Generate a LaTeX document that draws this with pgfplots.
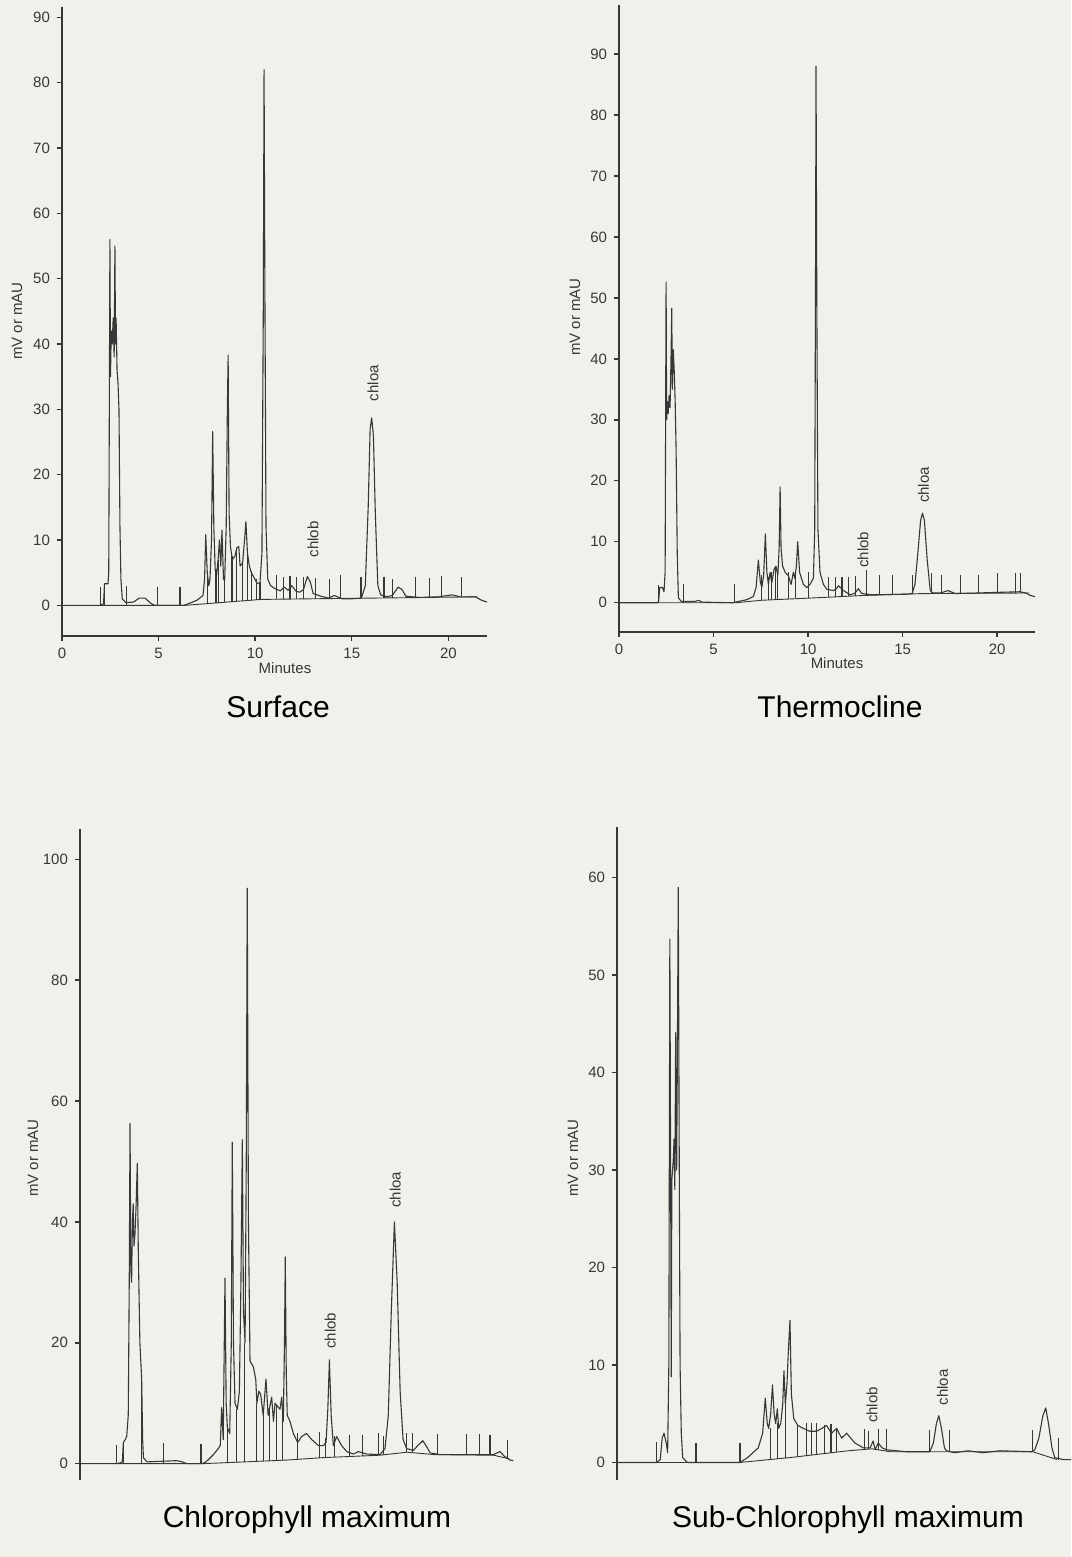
\documentclass[border=0pt]{standalone}
\usepackage{pgfplots}
\pgfplotsset{compat=1.18}
\usepackage{fontspec}
\setmainfont{Liberation Sans}
\definecolor{paper}{RGB}{242,240,235}
\definecolor{ink}{RGB}{55,55,55}
\pgfplotsset{
  chrom/.style={scale only axis, unbounded coords=jump,
    axis line style={-, line width=0.7pt, draw=ink},
    tick style={line width=0.7pt, draw=ink}, tick align=outside, major tick length=2.5pt,
    xtick pos=bottom, ytick pos=left,
    tick label style={font=\fontsize{7.5}{8}\selectfont, text=ink},
    /pgf/number format/assume math mode=true},
  trace/.style={line width=0.55pt, draw=ink, line join=round},
  base/.style={line width=0.45pt, draw=ink},
  evt/.style={line width=0.55pt, draw=ink},
}
\newcommand{\pk}[1]{\fontsize{7.5}{8}\selectfont #1}
\begin{document}
\begin{tikzpicture}
\path[fill=paper] (0,0) rectangle (535.5pt,-778.5pt);

% ---------- Surface ----------
\begin{axis}[chrom, at={(31pt,-318pt)}, anchor=south west,
  width=212.5pt, height=314.5pt,
  xmin=0, xmax=22, ymin=-4.7, ymax=91.6,
  axis x line*=bottom, axis y line*=left,
  xtick={0,5,10,15,20}, ytick={0,10,...,90}]
\addplot[trace] coordinates {(0,0) (1.95,0) (2.0,0.1) (2.15,0.2) (2.2,3.3) (2.38,3.3) (2.42,5) (2.45,30) (2.48,56) (2.51,35) (2.55,42) (2.6,40) (2.65,44) (2.7,38) (2.74,55) (2.77,40) (2.8,44) (2.85,36) (2.9,34) (2.95,30) (3.0,12) (3.05,4) (3.12,1.0) (3.3,0.4) (3.7,0.5) (4.0,1.1) (4.3,1.1) (4.6,0.3) (4.8,0) (6.3,0) (6.6,0.3) (7.0,0.8) (7.3,1.5) (7.38,4) (7.44,10.8) (7.52,5) (7.6,3) (7.66,4) (7.74,10) (7.8,26.6) (7.86,12) (7.93,5.5) (8.0,4.5) (8.08,7) (8.15,10) (8.22,6) (8.28,11.5) (8.36,4) (8.42,3.8) (8.5,12) (8.56,30) (8.6,38.3) (8.65,14) (8.72,9) (8.82,7) (8.95,7.5) (9.05,8.8) (9.15,9) (9.22,6) (9.35,6.5) (9.45,10) (9.52,12.8) (9.6,8) (9.7,6) (9.8,5) (9.95,4.2) (10.1,3.3) (10.25,3.5) (10.35,8) (10.42,45) (10.46,82) (10.5,50) (10.56,12) (10.65,4) (10.8,3) (11.0,2.6) (11.3,2.2) (11.5,2.8) (11.7,2.3) (11.9,3) (12.1,2.2) (12.3,2.0) (12.5,2.4) (12.7,4.4) (12.85,3.6) (13.0,1.8) (13.4,1.4) (13.8,1.1) (14.1,1.5) (14.5,1.0) (15.0,1.0) (15.5,1.1) (15.7,3) (15.85,15) (15.95,27) (16.03,28.7) (16.12,26) (16.22,14) (16.35,3) (16.5,1.6) (16.8,1.3) (17.1,1.5) (17.4,2.8) (17.6,2.4) (17.8,1.4) (18.5,1.2) (19.5,1.3) (20.2,1.6) (20.6,1.3) (21.4,1.3) (21.7,0.8) (22,0.5)};
\addplot[base] coordinates {(1.97,0) (6.4,0) (10.3,0.9) (13,1.0) (16,1.1) (21.5,1.3)};
\addplot[evt] coordinates {(1.97,0) (1.97,2.8) (1.97,nan) (2.22,0) (2.22,3.3) (2.22,nan) (3.35,0) (3.35,3) (3.35,nan) (4.95,0) (4.95,2.8) (4.95,nan) (6.11,0) (6.11,2.8) (6.11,nan)
 (7.55,0.25) (7.55,5) (7.55,nan) (7.97,0.37) (7.97,5.5) (7.97,nan) (8.1,0.4) (8.1,7) (8.1,nan) (8.39,0.45) (8.39,4) (8.39,nan) (8.8,0.55) (8.8,7.5) (8.8,nan) (9.05,0.6) (9.05,8.8) (9.05,nan) (9.35,0.7) (9.35,6.5) (9.35,nan) (9.6,0.75) (9.6,8) (9.6,nan) (9.8,0.8) (9.8,5.2) (9.8,nan) (10.08,0.85) (10.08,4) (10.08,nan) (10.25,0.9) (10.25,3.6) (10.25,nan)
 (11.11,0.95) (11.11,4.6) (11.11,nan) (11.46,0.95) (11.46,4.4) (11.46,nan) (11.8,0.97) (11.8,4.5) (11.8,nan) (12.15,0.98) (12.15,4.3) (12.15,nan) (12.49,1.0) (12.49,4.4) (12.49,nan) (13.1,1.0) (13.1,4.2) (13.1,nan) (13.84,1.03) (13.84,4.0) (13.84,nan) (14.42,1.05) (14.42,4.6) (14.42,nan) (15.48,1.08) (15.48,4.4) (15.48,nan) (16.67,1.12) (16.67,4.3) (16.67,nan) (17.12,1.13) (17.12,4.0) (17.12,nan) (18.31,1.17) (18.31,4.3) (18.31,nan) (19.01,1.2) (19.01,4.2) (19.01,nan) (19.65,1.22) (19.65,4.5) (19.65,nan) (20.69,1.27) (20.69,4.3)};
\node[rotate=90, text=ink] at (axis cs:16.1,34) {\pk{chloa}};
\node[rotate=90, text=ink] at (axis cs:13.0,10.1) {\pk{chlob}};
\end{axis}

% ---------- Thermocline ----------
\begin{axis}[chrom, at={(309.5pt,-316pt)}, anchor=south west,
  width=208pt, height=313.7pt,
  xmin=0, xmax=22, ymin=-4.8, ymax=98.1,
  axis x line*=bottom, axis y line*=left,
  xtick={0,5,10,15,20}, ytick={0,10,...,90}]
\addplot[trace] coordinates {(0,0) (2.05,0) (2.1,0.3) (2.15,2.5) (2.3,2.5) (2.38,1.8) (2.44,5) (2.47,35) (2.49,52.6) (2.52,30) (2.56,33) (2.6,31) (2.65,34) (2.7,32) (2.75,40) (2.79,48.3) (2.82,35) (2.87,41.5) (2.92,38) (2.97,33) (3.02,25) (3.08,8) (3.14,0.8) (3.3,0.2) (4.0,0.2) (4.2,0.4) (4.4,0.1) (6.0,0) (6.3,0.2) (6.75,0.5) (7.1,1) (7.25,2.5) (7.37,7) (7.47,3.5) (7.55,2.5) (7.65,4.5) (7.74,11.3) (7.82,5) (7.9,3) (7.99,5) (8.08,3.3) (8.2,5.5) (8.3,6) (8.4,4.5) (8.47,9) (8.52,19) (8.57,9) (8.65,6) (8.79,5) (8.96,4.4) (9.1,3) (9.22,5) (9.3,4) (9.38,6) (9.45,10) (9.55,5) (9.75,3) (9.93,2.5) (10.1,3) (10.28,4) (10.35,12) (10.39,50) (10.42,88) (10.46,50) (10.52,12) (10.63,5) (10.81,3) (10.99,2.2) (11.34,2) (11.5,2.3) (11.6,2.8) (11.87,2.0) (12.22,1.3) (12.45,1.5) (12.66,2.3) (12.84,1.5) (13.4,1.3) (15.2,1.4) (15.5,1.5) (15.65,3) (15.8,8) (15.95,13.5) (16.05,14.7) (16.15,13.5) (16.3,7) (16.46,2) (16.6,1.6) (17.0,1.6) (17.4,2) (17.78,1.5) (19,1.6) (20,1.7) (21.2,1.8) (21.5,1.6) (21.75,1.2) (22,1.0)};
\addplot[base] coordinates {(2.1,0) (6.2,0) (7.5,0.4) (10.0,0.75) (13,1.2) (16,1.5) (21.7,1.6)};
\addplot[evt] coordinates {(2.11,0) (2.11,2.9) (2.11,nan) (3.4,0) (3.4,3) (3.4,nan) (6.1,0) (6.1,3) (6.1,nan)
 (7.55,0.4) (7.55,4.5) (7.55,nan) (7.9,0.45) (7.9,4.2) (7.9,nan) (8.08,0.5) (8.08,5) (8.08,nan) (8.26,0.55) (8.26,5.8) (8.26,nan) (8.38,0.55) (8.38,5) (8.38,nan) (8.96,0.65) (8.96,5) (8.96,nan) (9.32,0.7) (9.32,4.8) (9.32,nan) (10.02,0.75) (10.02,5) (10.02,nan)
 (11.08,0.9) (11.08,4.3) (11.08,nan) (11.43,0.95) (11.43,4.3) (11.43,nan) (11.79,1.0) (11.79,4.2) (11.79,nan) (12.14,1.05) (12.14,4.3) (12.14,nan) (12.49,1.1) (12.49,4.4) (12.49,nan) (13.07,1.2) (13.07,5.4) (13.07,nan) (13.78,1.3) (13.78,4.5) (13.78,nan) (14.48,1.35) (14.48,4.5) (14.48,nan) (15.54,1.45) (15.54,4.5) (15.54,nan) (16.54,1.5) (16.54,4.8) (16.54,nan) (17.07,1.5) (17.07,4.5) (17.07,nan) (18.08,1.52) (18.08,4.5) (18.08,nan) (19.01,1.55) (19.01,4.5) (19.01,nan) (20.02,1.57) (20.02,4.8) (20.02,nan) (20.95,1.6) (20.95,4.8) (20.95,nan) (21.22,1.6) (21.22,4.8)};
\node[rotate=90, text=ink] at (axis cs:16.1,19.3) {\pk{chloa}};
\node[rotate=90, text=ink] at (axis cs:12.9,8.7) {\pk{chlob}};
\end{axis}

% ---------- Chlorophyll maximum ----------
\begin{axis}[chrom, at={(40pt,-740pt)}, anchor=south west,
  width=216.7pt, height=325.5pt,
  xmin=0, xmax=22, ymin=-2.7, ymax=105,
  axis x line=none, axis y line*=left,
  xtick=\empty, ytick={0,20,...,100}]
\addplot[trace] coordinates {(0,0) (1.86,0) (2.0,0.1) (2.15,0.3) (2.2,3.5) (2.3,4) (2.37,4.5) (2.45,8) (2.5,30) (2.54,56.3) (2.58,32) (2.62,30) (2.66,40) (2.7,43) (2.74,36) (2.79,38) (2.84,42) (2.91,49.7) (2.96,35) (3.04,20) (3.13,14) (3.18,4) (3.22,1) (3.4,0.3) (4.9,0.5) (5.2,0.3) (5.42,0) (6.18,0) (6.4,0.3) (6.77,1.5) (7.02,2.5) (7.12,3) (7.19,9.3) (7.27,4) (7.36,30.7) (7.42,10) (7.48,6) (7.6,5) (7.68,20) (7.73,53.2) (7.79,20) (7.87,10) (7.99,9) (8.09,12) (8.17,30) (8.24,53.6) (8.3,25) (8.38,20) (8.44,50) (8.49,95.2) (8.55,40) (8.63,17) (8.8,16) (8.92,14) (8.98,10) (9.08,12) (9.17,11.5) (9.3,8) (9.44,14) (9.55,8) (9.73,11) (9.82,7) (9.9,10) (10.15,9) (10.24,11) (10.32,7) (10.38,20) (10.42,34.2) (10.47,15) (10.52,8) (10.66,7) (10.83,5) (11.05,3.5) (11.25,4.5) (11.5,5) (11.76,4) (12.1,3) (12.35,3) (12.49,3.5) (12.58,9) (12.66,17.2) (12.75,8) (12.86,3) (13.03,4.5) (13.28,3) (13.54,2) (13.88,1.6) (14.13,2) (14.55,1.6) (15.23,1.5) (15.48,2.5) (15.65,8) (15.8,25) (15.96,40) (16.1,30) (16.25,12) (16.4,4) (16.58,2.5) (16.92,2.2) (17.15,3) (17.4,3.8) (17.6,2.8) (17.77,1.8) (18.27,1.5) (20.98,1.5) (21.32,2) (21.55,1.2) (21.83,0.6) (22,0.5)};
\addplot[base] coordinates {(1.86,0) (6.2,0) (10.5,0.6) (12.3,1.0) (15.2,1.4) (16.6,1.9) (18,1.5) (21,1.4) (21.8,0.8)};
\addplot[evt] coordinates {(1.86,0) (1.86,3.1) (1.86,nan) (2.2,0) (2.2,3.6) (2.2,nan) (3.13,0) (3.13,13.5) (3.13,nan) (4.26,0) (4.26,3.5) (4.26,nan) (6.14,0) (6.14,3.3) (6.14,nan)
 (7.48,0.25) (7.48,6) (7.48,nan) (7.95,0.3) (7.95,9) (7.95,nan) (8.37,0.35) (8.37,20) (8.37,nan) (8.97,0.45) (8.97,10) (8.97,nan) (9.3,0.5) (9.3,8) (9.3,nan) (9.64,0.5) (9.64,9) (9.64,nan) (9.98,0.55) (9.98,9.5) (9.98,nan) (10.28,0.58) (10.28,9) (10.28,nan)
 (11.05,0.7) (11.05,5) (11.05,nan) (12.15,1.0) (12.15,5.2) (12.15,nan) (12.44,1.0) (12.44,4.2) (12.44,nan) (12.94,1.05) (12.94,4.6) (12.94,nan) (13.7,1.15) (13.7,4.8) (13.7,nan) (14.35,1.25) (14.35,4.7) (14.35,nan) (15.14,1.4) (15.14,5) (15.14,nan) (15.4,1.45) (15.4,4.5) (15.4,nan) (16.58,1.9) (16.58,5) (16.58,nan) (16.89,1.85) (16.89,5) (16.89,nan) (18.14,1.5) (18.14,4.9) (18.14,nan) (19.6,1.45) (19.6,4.9) (19.6,nan) (20.3,1.45) (20.3,4.9) (20.3,nan) (20.81,1.4) (20.81,4.7) (20.81,nan) (21.71,0.9) (21.71,4)};
\node[rotate=90, text=ink] at (axis cs:16.0,45.3) {\pk{chloa}};
\node[rotate=90, text=ink] at (axis cs:12.7,22) {\pk{chlob}};
\end{axis}

% ---------- Sub-Chlorophyll maximum ----------
\begin{axis}[chrom, at={(308.5pt,-740pt)}, anchor=south west,
  width=227pt, height=326.5pt,
  xmin=0, xmax=22.6, ymin=-1.8, ymax=65.2,
  axis x line=none, axis y line*=left,
  xtick=\empty, ytick={0,10,...,60}]
\addplot[trace] coordinates {(0,0) (1.97,0) (2.15,0.3) (2.25,2.5) (2.34,3.0) (2.45,2) (2.52,1) (2.58,10) (2.63,53.7) (2.67,30) (2.7,8.8) (2.73,29) (2.8,31) (2.84,33.2) (2.88,28) (2.92,44.1) (2.97,30) (3.0,40) (3.05,59) (3.1,30) (3.14,10) (3.2,3) (3.27,0.5) (3.5,0) (6.12,0) (6.5,0.5) (7.03,1.5) (7.25,3) (7.38,6.6) (7.48,4) (7.55,3.5) (7.65,5) (7.74,7.95) (7.82,5) (7.9,4) (7.98,5.5) (8.05,3.5) (8.15,4) (8.25,6) (8.31,9.4) (8.38,6) (8.46,8) (8.52,11) (8.61,14.6) (8.68,7) (8.8,4.5) (9.0,3.8) (9.27,3.5) (9.6,3.2) (9.93,3.2) (10.2,3.5) (10.43,3.8) (10.68,3) (10.93,3.5) (11.18,2.5) (11.43,3) (11.84,2) (12.26,1.5) (12.6,1.5) (12.75,2.2) (12.85,1.3) (13.0,2) (13.2,1.5) (13.42,1.3) (14.41,1.1) (15.57,1.1) (15.75,2) (15.9,4) (16.02,4.8) (16.15,3.5) (16.3,1.5) (16.4,1.2) (16.8,1.0) (17.48,1.2) (18.2,1.0) (19.06,1.2) (20.63,1.1) (20.8,1.3) (21.0,2.5) (21.2,4.8) (21.34,5.6) (21.48,4) (21.65,1.5) (21.79,0.5) (22.2,0.3) (22.6,0.3)};
\addplot[base] coordinates {(1.97,0) (6.12,0) (8.6,0.5) (11.5,1.2) (12.7,1.4) (13.6,1.1) (20.7,1.1) (21.9,0.3)};
\addplot[evt] coordinates {(1.97,0) (1.97,2.1) (1.97,nan) (3.93,0) (3.93,2) (3.93,nan) (6.12,0) (6.12,2) (6.12,nan)
 (7.62,0.3) (7.62,3.5) (7.62,nan) (8.0,0.38) (8.0,4) (8.0,nan) (8.4,0.45) (8.4,6) (8.4,nan) (9.0,0.6) (9.0,3.8) (9.0,nan) (9.44,0.7) (9.44,4) (9.44,nan) (9.69,0.75) (9.69,4) (9.69,nan) (9.93,0.85) (9.93,4) (9.93,nan) (10.35,0.95) (10.35,3.8) (10.35,nan) (10.65,1.0) (10.65,3.9) (10.65,nan) (10.93,1.05) (10.93,3.5) (10.93,nan)
 (12.34,1.35) (12.34,3.4) (12.34,nan) (12.5,1.35) (12.5,3.2) (12.5,nan) (13.0,1.3) (13.0,3.4) (13.0,nan) (13.42,1.15) (13.42,3.4) (13.42,nan) (15.54,1.1) (15.54,3.3) (15.54,nan) (16.57,1.1) (16.57,3.3) (16.57,nan) (20.68,1.1) (20.68,3.3) (20.68,nan) (21.96,0.3) (21.96,2.5)};
\node[rotate=90, text=ink] at (axis cs:16.2,7.7) {\pk{chloa}};
\node[rotate=90, text=ink] at (axis cs:12.7,5.9) {\pk{chlob}};
\end{axis}

% ---------- labels ----------
\begin{scope}[every node/.style={text=ink}]
\node[rotate=90] at (8.5pt,-160.5pt) {\fontsize{7.5}{8}\selectfont mV or mAU};
\node[rotate=90] at (287.5pt,-158.5pt) {\fontsize{7.5}{8}\selectfont mV or mAU};
\node[rotate=90] at (16.5pt,-579pt) {\fontsize{7.5}{8}\selectfont mV or mAU};
\node[rotate=90] at (286.5pt,-579pt) {\fontsize{7.5}{8}\selectfont mV or mAU};
\node at (142.5pt,-334pt) {\fontsize{7.5}{8}\selectfont Minutes};
\node at (418.5pt,-331.5pt) {\fontsize{7.5}{8}\selectfont Minutes};
\node[text=black] at (139pt,-353.5pt) {\fontsize{15}{18}\selectfont Surface};
\node[text=black] at (420pt,-353.5pt) {\fontsize{15}{18}\selectfont Thermocline};
\node[text=black] at (153.5pt,-760pt) {\fontsize{15}{18}\selectfont Chlorophyll maximum};
\node[text=black] at (424pt,-760pt) {\fontsize{15}{18}\selectfont Sub-Chlorophyll maximum};
\end{scope}
\end{tikzpicture}
\end{document}
